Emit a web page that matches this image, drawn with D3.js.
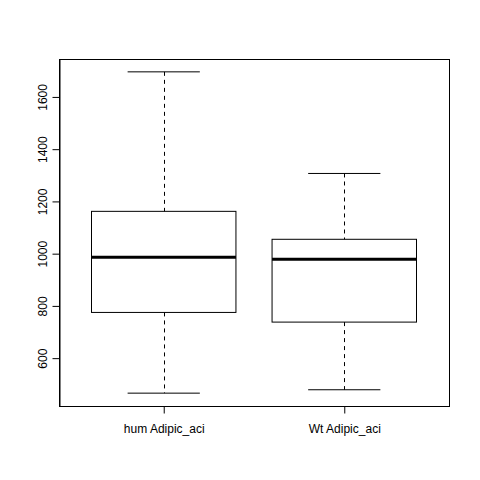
<!DOCTYPE html>
<html>
<head>
<meta charset="utf-8">
<script src="https://cdn.jsdelivr.net/npm/d3@7"></script>
<style>
  body { margin: 0; background: #fff; }
  text { font-family: "Liberation Sans", Arial, sans-serif; font-size: 12px; fill: #000; }
</style>
</head>
<body>
<svg id="chart" width="480" height="480"></svg>
<script>
// groupes et statistiques (min, q1, mediane, q3, max)
var groupes = ["hum Adipic_aci", "Wt Adipic_aci"];
var minimums = [466, 479];
var q1s = [775, 738];
var medianes = [986, 979];
var q3s = [1162, 1055];
var maximums = [1696, 1307];
var yTicks = [600, 800, 1000, 1200, 1400, 1600];

var svg = d3.select("#chart");
var mLeft = 59, mRight = 449, mTop = 59, mBottom = 406;

// comme R : xlim c(0.5, n+0.5) puis 4% de marge
var n = groupes.length;
var xr = [0.5, n + 0.5];
var xpad = (xr[1] - xr[0]) * 0.04;
var x = d3.scaleLinear().domain([xr[0] - xpad, xr[1] + xpad]).range([mLeft, mRight]);

var ymin = d3.min(minimums), ymax = d3.max(maximums);
var ypad = (ymax - ymin) * 0.04;
var y = d3.scaleLinear().domain([ymin - ypad, ymax + ypad]).range([mBottom, mTop]);

var boites = groupes.map(function (g, i) {
    return { nom: g, pos: i + 1, min: minimums[i], q1: q1s[i], med: medianes[i], q3: q3s[i], max: maximums[i] };
});

var demi = 0.4, cap = 0.2;
var g = svg.append("g");

boites.forEach(function (b) {
    var cx = Math.round(x(b.pos)) + 0.5;
    // moustaches en pointillé
    g.append("line").attr("x1", cx).attr("x2", cx).attr("y1", y(b.max)).attr("y2", y(b.q3))
        .attr("stroke", "#000").attr("stroke-dasharray", "4,4");
    g.append("line").attr("x1", cx).attr("x2", cx).attr("y1", y(b.q1)).attr("y2", y(b.min))
        .attr("stroke", "#000").attr("stroke-dasharray", "4,4");
    // extrémités
    [b.min, b.max].forEach(function (v) {
        g.append("line").attr("x1", x(b.pos - cap)).attr("x2", x(b.pos + cap))
            .attr("y1", y(v)).attr("y2", y(v)).attr("stroke", "#000");
    });
    // boite
    g.append("rect").attr("x", x(b.pos - demi)).attr("y", y(b.q3))
        .attr("width", x(b.pos + demi) - x(b.pos - demi)).attr("height", y(b.q1) - y(b.q3))
        .attr("fill", "none").attr("stroke", "#000");
    // mediane
    g.append("line").attr("x1", x(b.pos - demi)).attr("x2", x(b.pos + demi))
        .attr("y1", y(b.med)).attr("y2", y(b.med)).attr("stroke", "#000").attr("stroke-width", 3);
});

// cadre
svg.append("rect").attr("x", mLeft + 0.5).attr("y", mTop + 0.5)
    .attr("width", mRight - mLeft).attr("height", mBottom - mTop)
    .attr("fill", "none").attr("stroke", "#000");

// axe y
var axeY = svg.append("g").attr("transform", "translate(" + (mLeft + 0.5) + ",0)")
    .call(d3.axisLeft(y).tickValues(yTicks).tickSize(7).tickSizeOuter(0).tickFormat(d3.format("d")));
axeY.attr("font-size", null).attr("font-family", null);
axeY.selectAll("path, line").attr("stroke", "#000");
axeY.selectAll(".tick text")
    .attr("x", null).attr("y", null).attr("dy", null)
    .attr("text-anchor", "middle")
    .attr("transform", "translate(-13,0) rotate(-90)");

// axe x
var axeX = svg.append("g").attr("transform", "translate(0," + (mBottom + 0.5) + ")")
    .call(d3.axisBottom(x).tickValues(boites.map(function (b) { return b.pos; }))
        .tickSize(7).tickSizeOuter(0).tickFormat(function (d, i) { return groupes[i]; }));
axeX.attr("font-size", null).attr("font-family", null);
axeX.select("path").remove();
axeX.selectAll("line").attr("stroke", "#000");
axeX.selectAll(".tick text").attr("y", 26).attr("dy", null);
</script>
</body>
</html>
